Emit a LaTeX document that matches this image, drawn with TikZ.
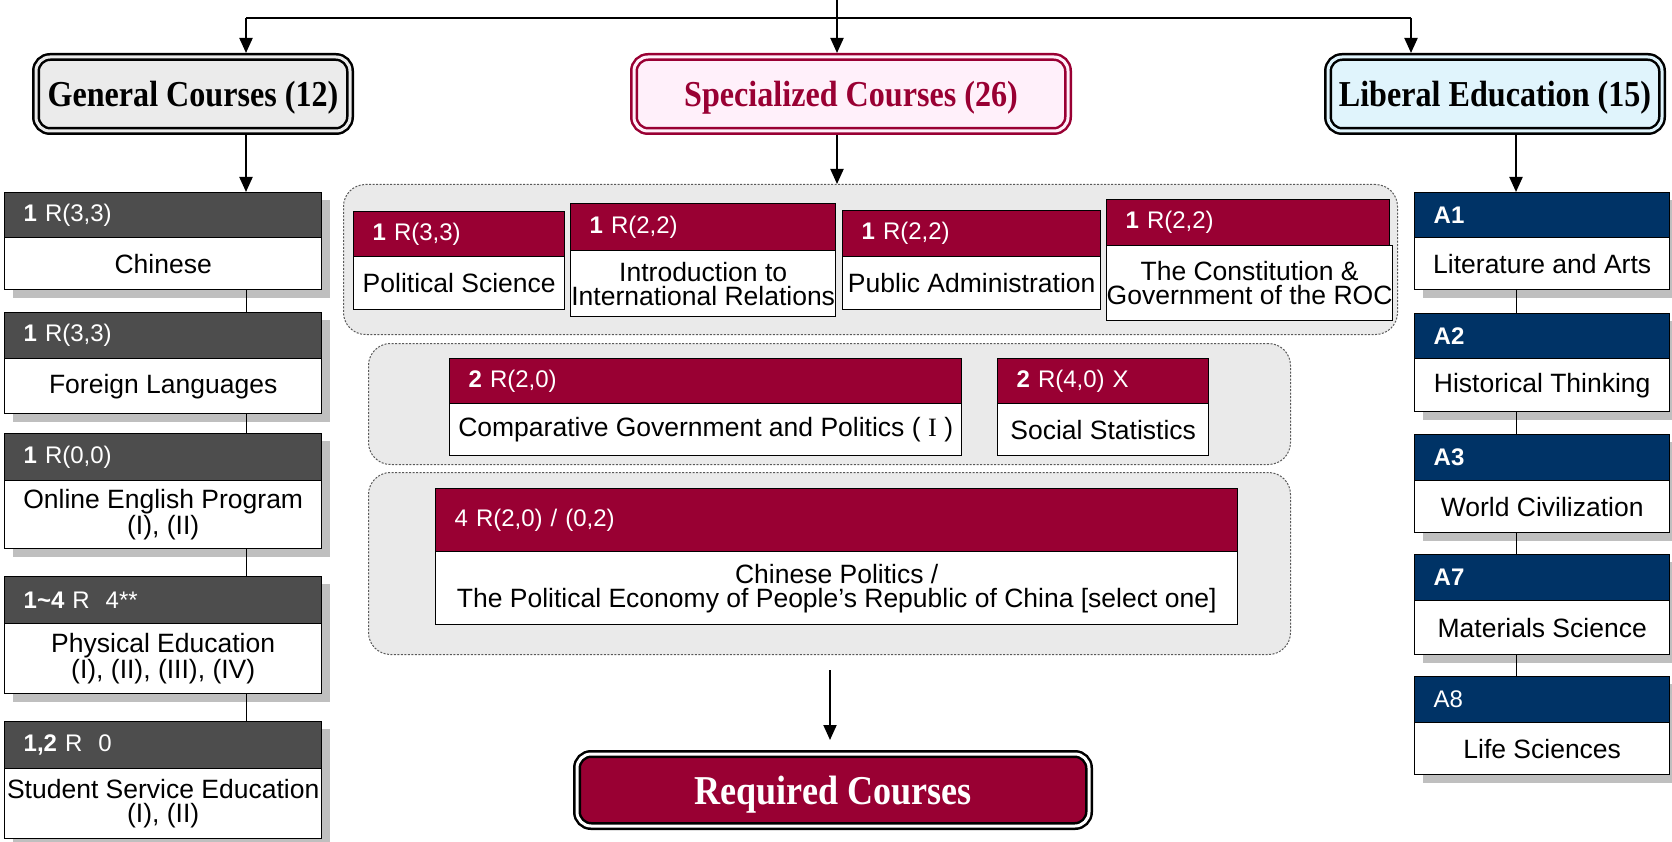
\documentclass[tikz,border=0pt]{standalone}
\usepackage{fontspec}
\usepackage{graphicx}
\setmainfont{Liberation Sans}
\newfontfamily\tnr{Liberation Serif}
\usetikzlibrary{arrows.meta,calc}
\definecolor{crim}{HTML}{990033}
\definecolor{navy}{HTML}{003366}
\definecolor{dgray}{HTML}{4D4D4D}
\definecolor{pinkfill}{HTML}{FFF0FA}
\definecolor{bluefill}{HTML}{E0F4FC}
\definecolor{genfill}{HTML}{EBEBEB}
\definecolor{grpfill}{HTML}{EAEAEA}
\definecolor{shadowc}{HTML}{BFBFBF}
\tikzset{
  arr/.style={line width=2pt, -{Triangle[length=15pt,width=13pt]}},
  link/.style={line width=1pt, draw=black},
  hdr/.style={draw=black, line width=1.4pt, text=white, inner xsep=19pt, inner ysep=0pt,
    align=left, anchor=north west, font=\fontsize{24}{26}\selectfont},
  bdy/.style={draw=black, line width=1.4pt, fill=white, inner xsep=0pt, inner ysep=0pt,
    align=center, anchor=north west, font=\fontsize{26.5}{24}\selectfont},
  grp/.style={draw=black!65, line width=1pt, dash pattern=on 2pt off 1.5pt,
    rounded corners=22pt, fill=grpfill, anchor=north west, inner sep=0pt},
  big/.style={rounded corners=14pt, line width=2.5pt, double distance=3pt, outer sep=4pt,
    inner sep=0pt, text depth=0pt, font=\tnr\bfseries\fontsize{36.5}{40}\selectfont},
}
\newcommand\mkcard[9]{%
  \pgfmathsetmacro\cw{#3-#2}%
  \pgfmathsetmacro\tw{#3-#2-38}%
  \pgfmathsetmacro\hh{#5-#4}%
  \pgfmathsetmacro\bh{#6-#5}%
  \node[hdr, fill=#7, text width=\tw pt, minimum height=\hh pt] (#1h) at (#2,#4) {#8};
  \node[bdy, minimum width=\cw pt, minimum height=\bh pt] (#1b) at (#2,#5) {#9};
}
\newcommand\shd[4]{\fill[shadowc] (#1+9,#2+8) rectangle (#3+9,#4+9);}
\begin{document}
\begin{tikzpicture}[x=1pt,y=-1pt]
\fill[white] (0,0) rectangle (1672,842);
\useasboundingbox (0,0) rectangle (1672,842);

% helper coordinates
\coordinate (lx) at (246,18);
\coordinate (rx) at (1411,18);
\coordinate (cx) at (837,0);
\coordinate (rdx) at (1516,0);
\coordinate (bx) at (830,0);

% headline boxes
\node[big, draw=black, double=genfill, fill=genfill, minimum width=314pt, minimum height=74pt]
  (gen) at (193,94) {\scalebox{0.88}[1]{General Courses (12)}};
\node[big, draw=crim, double=pinkfill, fill=pinkfill, text=crim, minimum width=434pt, minimum height=74pt]
  (spec) at (851,94) {\scalebox{0.88}[1]{Specialized Courses (26)}};
\node[big, draw=black, double=bluefill, fill=bluefill, minimum width=334pt, minimum height=74pt]
  (lib) at (1495,94) {\scalebox{0.88}[1]{Liberal Education (15)}};

% top connectors
\draw[line width=2pt] (lx) -- (rx);
\draw[arr] (cx) -- (cx |- spec.north);
\draw[arr] (lx) -- (lx |- gen.north);
\draw[arr] (rx) -- (rx |- lib.north);

% groups
\node[grp, minimum width=1054pt, minimum height=150pt] (grp1) at (343,184) {};
\node[grp, minimum width=922pt, minimum height=121pt] (grp2) at (368,343) {};
\node[grp, minimum width=922pt, minimum height=182pt] (grp3) at (368,472) {};

% left column
\shd{4}{192}{321}{289}
\shd{4}{312}{321}{413}
\shd{4}{433}{321}{548}
\shd{4}{576}{321}{693}
\shd{4}{721}{321}{838}
\mkcard{c1}{4}{321}{192}{237}{289}{dgray}{\textbf{1} R(3,3)}{Chinese}
\mkcard{c2}{4}{321}{312}{358}{413}{dgray}{\textbf{1} R(3,3)}{Foreign Languages}
\mkcard{c3}{4}{321}{433}{480}{548}{dgray}{\textbf{1} R(0,0)}{Online English Program\\(I), (II)}
\mkcard{c4}{4}{321}{576}{623}{693}{dgray}{\textbf{1\textasciitilde4} R\ \ 4**}{Physical Education\\(I), (II), (III), (IV)}
\mkcard{c5}{4}{321}{721}{768}{838}{dgray}{\textbf{1,2} R\ \ 0}{Student Service Education\\(I), (II)}

% right column
\shd{1414}{192}{1669}{289}
\shd{1414}{313}{1669}{411}
\shd{1414}{434}{1669}{532}
\shd{1414}{554}{1669}{654}
\shd{1414}{676}{1669}{774}
\mkcard{a1}{1414}{1669}{192}{237}{289}{navy}{\textbf{A1}}{Literature and Arts}
\mkcard{a2}{1414}{1669}{313}{358}{411}{navy}{\textbf{A2}}{Historical Thinking}
\mkcard{a3}{1414}{1669}{434}{480}{532}{navy}{\textbf{A3}}{World Civilization}
\mkcard{a7}{1414}{1669}{554}{600}{654}{navy}{\textbf{A7}}{Materials Science}
\mkcard{a8}{1414}{1669}{676}{722}{774}{navy}{A8}{Life Sciences}

% middle cards
\mkcard{ps}{353}{564}{211}{256}{309}{crim}{\textbf{1} R(3,3)}{Political Science}
\mkcard{ir}{570}{835}{203}{250}{316}{crim}{\textbf{1} R(2,2)}{Introduction to\\International Relations}
\mkcard{pa}{842}{1100}{210}{256}{309}{crim}{\textbf{1} R(2,2)}{Public Administration}
\mkcard{co}{1106}{1389}{199}{245}{320}{crim}{\textbf{1} R(2,2)}{The Constitution \&\\Government of the ROC}
\mkcard{cg}{449}{961}{358}{403}{455}{crim}{\textbf{2} R(2,0)}{Comparative Government and Politics ( {\tnr I} )}
\mkcard{ss}{997}{1208}{358}{403}{455}{crim}{\textbf{2} R(4,0) X}{Social Statistics}
\mkcard{cp}{435}{1237}{488}{551}{624}{crim}{4 R(2,0) / (0,2)}{Chinese Politics /\\The Political Economy of People’s Republic of China [select one]}

% down arrows
\draw[arr] (gen.south -| lx) -- (c1h.north -| lx);
\draw[arr] (spec.south -| cx) -- (grp1.north -| cx);
\draw[arr] (lib.south -| rdx) -- (a1h.north -| rdx);

% column links
\draw[link] (c1b.south -| lx) -- (c2h.north -| lx);
\draw[link] (c2b.south -| lx) -- (c3h.north -| lx);
\draw[link] (c3b.south -| lx) -- (c4h.north -| lx);
\draw[link] (c4b.south -| lx) -- (c5h.north -| lx);
\draw[link] (a1b.south -| rdx) -- (a2h.north -| rdx);
\draw[link] (a2b.south -| rdx) -- (a3h.north -| rdx);
\draw[link] (a3b.south -| rdx) -- (a7h.north -| rdx);
\draw[link] (a7b.south -| rdx) -- (a8h.north -| rdx);

% required
\node[big, draw=black, double=white, fill=crim, text=white, minimum width=512pt, minimum height=72pt,
  font=\tnr\bfseries\fontsize{41}{44}\selectfont] (req) at (833,790) {\scalebox{0.88}[1]{Required Courses}};
\draw[arr, shorten <=15pt, shorten >=10pt] (grp3.south -| bx) -- (req.north -| bx);
\end{tikzpicture}
\end{document}
